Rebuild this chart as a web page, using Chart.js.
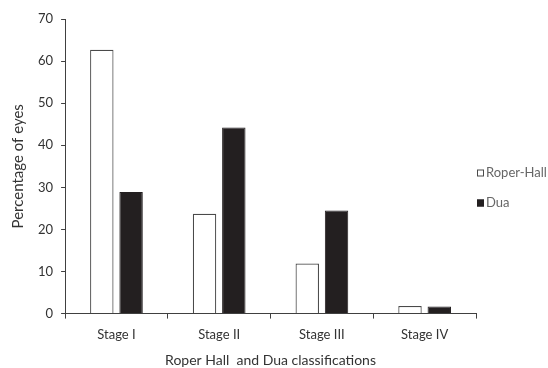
<!DOCTYPE html>
<html>
<head>
<meta charset="utf-8">
<script src="https://cdn.jsdelivr.net/npm/chart.js@4"></script>
<style>
  html, body { margin: 0; padding: 0; background: #fff; }
  #wrap { width: 548px; height: 368px; }
</style>
</head>
<body>
<div id="wrap"><canvas id="barChart"></canvas></div>
<script>
const stages = ['Stage I', 'Stage II', 'Stage III', 'Stage IV'];
const roperHall = [62.7, 23.7, 11.9, 1.8];
const dua = [28.9, 44.2, 24.5, 1.7];
const yTicks = [0, 10, 20, 30, 40, 50, 60, 70];

const axisColor = '#404040';
const textColor = '#333333';

// legend drawn at the right side, next to the plot
const sideLegend = {
    id: 'sideLegend',
    afterDraw(chart) {
        const ctx = chart.ctx;
        const x = chart.chartArea.right + 1;
        ctx.save();
        ctx.font = '13px Lato';
        ctx.textBaseline = 'middle';
        chart.data.datasets.forEach(function (ds, i) {
            const y = 173 + i * 30;
            ctx.fillStyle = ds.backgroundColor;
            ctx.fillRect(x, y - 3.5, 7, 7);
            ctx.strokeStyle = ds.borderColor;
            ctx.lineWidth = 1;
            ctx.strokeRect(x + 0.5, y - 3, 6, 6);
            ctx.fillStyle = '#666666';
            ctx.fillText(ds.label, x + 9, y);
        });
        ctx.restore();
    }
};

new Chart(document.getElementById('barChart').getContext('2d'), {
    type: 'bar',
    data: {
        labels: stages,
        datasets: [{
            label: 'Roper-Hall',
            data: roperHall,
            backgroundColor: '#ffffff',
            borderColor: '#4a4a4a',
            borderWidth: 1.2,
            categoryPercentage: 0.57,
            barPercentage: 0.8
        }, {
            label: 'Dua',
            data: dua,
            backgroundColor: '#231f20',
            borderColor: '#231f20',
            borderWidth: 1,
            categoryPercentage: 0.57,
            barPercentage: 0.8
        }]
    },
    options: {
        responsive: true,
        maintainAspectRatio: false,
        animation: false,
        layout: { padding: { top: 19, right: 72, left: 9, bottom: -1 } },
        plugins: {
            legend: { display: false },
            tooltip: { enabled: false }
        },
        scales: {
            x: {
                grid: {
                    offset: true,
                    drawOnChartArea: false,
                    drawTicks: true,
                    tickLength: 5,
                    color: axisColor
                },
                border: { display: true, color: axisColor, width: 1 },
                ticks: { color: textColor, font: { family: 'Lato', size: 13 }, padding: 8 },
                title: {
                    display: true,
                    text: 'Roper Hall  and Dua classifications',
                    color: textColor,
                    font: { family: 'Lato', size: 14 },
                    padding: { top: 2, bottom: 0 }
                }
            },
            y: {
                min: 0,
                max: 70,
                afterBuildTicks(axis) {
                    axis.ticks = yTicks.map(function (v) { return { value: v }; });
                },
                grid: {
                    drawOnChartArea: false,
                    drawTicks: true,
                    tickLength: 4,
                    color: axisColor
                },
                border: { display: true, color: axisColor, width: 1 },
                ticks: { color: textColor, font: { family: 'Lato', size: 13 }, padding: 8 },
                title: {
                    display: true,
                    text: 'Percentage of eyes',
                    color: textColor,
                    font: { family: 'Lato', size: 15 },
                    padding: { top: 0, bottom: 3 }
                }
            }
        }
    },
    plugins: [sideLegend]
});
</script>
</body>
</html>
